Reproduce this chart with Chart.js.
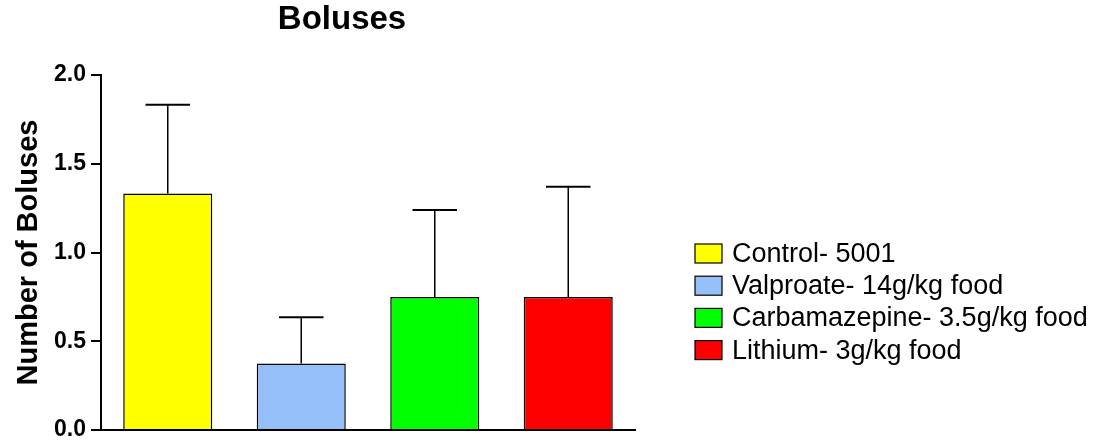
<!DOCTYPE html>
<html><head><meta charset="utf-8">
<script src="https://cdn.jsdelivr.net/npm/chart.js@4.4.1/dist/chart.umd.min.js"></script>
<style>html,body{margin:0;padding:0;background:#fff;} #wrap{width:1103px;height:444px;position:relative}</style>
</head><body><div id="wrap"><canvas id="c" width="1103" height="444"></canvas></div>
<script>
const chartTitle = 'Boluses';
const yAxisTitle = 'Number of Boluses';
const categories = ['Control- 5001', 'Valproate- 14g/kg food', 'Carbamazepine- 3.5g/kg food', 'Lithium- 3g/kg food'];
const means = [1.333, 0.375, 0.75, 0.75];
const errors = [0.5, 0.26, 0.49, 0.62];
const barColors = ['#FFFF00', '#94BFF8', '#00FF00', '#FF0000'];
const yTickLabels = ['0.0', '0.5', '1.0', '1.5', '2.0'];

const FONT = "'Liberation Sans', Arial, sans-serif";

const errorBarPlugin = {
  id: 'errorBars',
  afterDatasetsDraw(chart) {
    const ctx = chart.ctx;
    const meta = chart.getDatasetMeta(0);
    const ys = chart.scales.y;
    ctx.save();
    ctx.strokeStyle = '#000';
    meta.data.forEach((bar, i) => {
      const x = bar.x;
      const y0 = ys.getPixelForValue(means[i]);
      const y1 = ys.getPixelForValue(means[i] + errors[i]);
      const half = bar.width * 0.25;
      ctx.lineWidth = 1.5;
      ctx.beginPath(); ctx.moveTo(x, y0); ctx.lineTo(x, y1); ctx.stroke();
      ctx.lineWidth = 2;
      ctx.beginPath(); ctx.moveTo(x - half, y1); ctx.lineTo(x + half, y1); ctx.stroke();
    });
    ctx.restore();
  }
};

const titleLegendPlugin = {
  id: 'titleLegend',
  afterDraw(chart) {
    const ctx = chart.ctx;
    ctx.save();
    ctx.fillStyle = '#000';
    ctx.font = 'bold 33px ' + FONT;
    ctx.textAlign = 'center';
    ctx.textBaseline = 'middle';
    ctx.fillText(chartTitle, 342, 20);
    // legend
    const bx = 695, by0 = 253.5, step = 32.2, bw = 27, bh = 19;
    ctx.font = '27px ' + FONT;
    ctx.textAlign = 'left';
    categories.forEach((label, i) => {
      const cy = by0 + i * step;
      ctx.fillStyle = barColors[i];
      ctx.fillRect(bx, cy - bh / 2, bw, bh);
      ctx.lineWidth = 1.2;
      ctx.strokeStyle = '#000';
      ctx.strokeRect(bx, cy - bh / 2, bw, bh);
      ctx.fillStyle = '#000';
      ctx.fillText(label, 732, cy + 1);
    });
    ctx.restore();
  }
};

new Chart(document.getElementById('c'), {
  type: 'bar',
  data: {
    labels: categories,
    datasets: [{
      data: means,
      backgroundColor: barColors,
      borderColor: '#000',
      borderWidth: 1.5,
      categoryPercentage: 1,
      barPercentage: 0.667
    }]
  },
  options: {
    responsive: false,
    animation: false,
    layout: { padding: { left: 0, right: 468, top: 75, bottom: 0 } },
    plugins: { legend: { display: false }, tooltip: { enabled: false }, title: { display: false } },
    scales: {
      x: {
        ticks: { display: false },
        grid: { display: false },
        border: { display: true, color: '#000', width: 2 },
        afterFit(scale) { scale.height = 14; }
      },
      y: {
        min: 0, max: 2,
        ticks: {
          stepSize: 0.5,
          color: '#000',
          padding: 5,
          font: { family: FONT, size: 23, weight: 'bold' },
          callback: (v, i) => yTickLabels[i]
        },
        grid: { drawOnChartArea: false, drawTicks: true, tickLength: 10, color: '#000', lineWidth: 2 },
        border: { display: true, color: '#000', width: 2 },
        title: {
          display: true, text: yAxisTitle, color: '#000',
          font: { family: FONT, size: 29, weight: 'bold' },
          padding: { top: 12, bottom: 0 }
        },
        afterFit(scale) { scale.width = 101; scale.paddingBottom = 0; scale.paddingTop = 0; }
      }
    }
  },
  plugins: [errorBarPlugin, titleLegendPlugin]
});
</script>
</body></html>
